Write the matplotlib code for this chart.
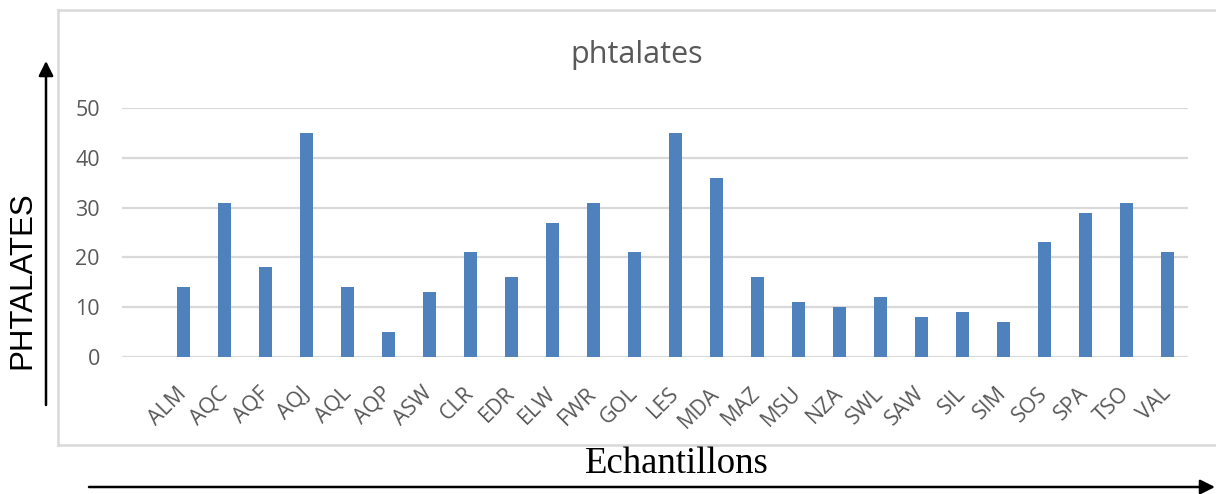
import matplotlib
matplotlib.use("Agg")
import matplotlib.pyplot as plt
from matplotlib.lines import Line2D
from matplotlib.patches import FancyArrowPatch

# Sample codes and phthalate levels
categories = ["ALM", "AQC", "AQF", "AQJ", "AQL", "AQP", "ASW", "CLR", "EDR", "ELW",
              "FWR", "GOL", "LES", "MDA", "MAZ", "MSU", "NZA", "SWL", "SAW", "SIL",
              "SIM", "SOS", "SPA", "TSO", "VAL"]
values = [14, 31, 18, 45, 14, 5, 13, 21, 16, 27,
          31, 21, 45, 36, 16, 11, 10, 12, 8, 9,
          7, 23, 29, 31, 21]
y_ticks = [0, 10, 20, 30, 40, 50]

W, H = 1216, 494
fig = plt.figure(figsize=(W / 100, H / 100), dpi=100)

def fx(px):
    return px / W

def fy(py):
    return 1 - py / H

grey = "#595959"
grid_c = "#D9D9D9"
bar_c = "#4F81BD"
tick_font = "Open Sans"

ax = fig.add_axes([fx(122), fy(357), fx(1188) - fx(122), fy(108) - fy(357)])
x = list(range(len(categories)))
ax.bar(x, values, width=0.32, color=bar_c, zorder=3)
ax.set_xlim(-1.5, len(categories) - 0.5)
ax.set_ylim(0, 50)
ax.set_yticks(y_ticks)
ax.set_yticklabels([str(v) for v in y_ticks], fontsize=15.5, color=grey, family=tick_font)
ax.set_xticks(x)
ax.set_xticklabels(categories, rotation=45, ha="right", va="center",
                   rotation_mode="anchor", fontsize=15.5, color=grey, family=tick_font)
ax.tick_params(axis="y", length=0, pad=16)
ax.tick_params(axis="x", length=0, pad=24)
for s in ax.spines.values():
    s.set_visible(False)
ax.grid(axis="y", color=grid_c, linewidth=1.6, zorder=0)
ax.set_axisbelow(True)

# Chart frame
frame_kw = dict(color=grid_c, linewidth=1.8, transform=fig.transFigure)
fig.add_artist(Line2D([fx(58), fx(1216)], [fy(10), fy(10)], **frame_kw))
fig.add_artist(Line2D([fx(58), fx(58)], [fy(10), fy(445)], **frame_kw))
fig.add_artist(Line2D([fx(58), fx(1216)], [fy(445), fy(445)], **frame_kw))

fig.text(fx(637), fy(55), "phtalates", ha="center", va="center",
         fontsize=22, color=grey, family=tick_font)

# Axis titles with arrows
fig.text(fx(22), fy(280), "PHTALATES", rotation=90, ha="center", va="center",
         fontsize=22.5, color="black", family="Liberation Sans")
fig.text(fx(677), fy(464), "Echantillons", ha="center", va="center",
         fontsize=26.5, color="black", family="Liberation Serif")

arrow_kw = dict(arrowstyle="-|>", color="black", lw=1.8, mutation_scale=22,
                shrinkA=0, shrinkB=0)
fig.add_artist(FancyArrowPatch(
    (fx(46), fy(405)), (fx(46), fy(61)), transform=fig.transFigure, **arrow_kw))
fig.add_artist(FancyArrowPatch(
    (fx(89), fy(487)), (fx(1215), fy(487)), transform=fig.transFigure, **arrow_kw))

fig.savefig("out.png", dpi=100)
